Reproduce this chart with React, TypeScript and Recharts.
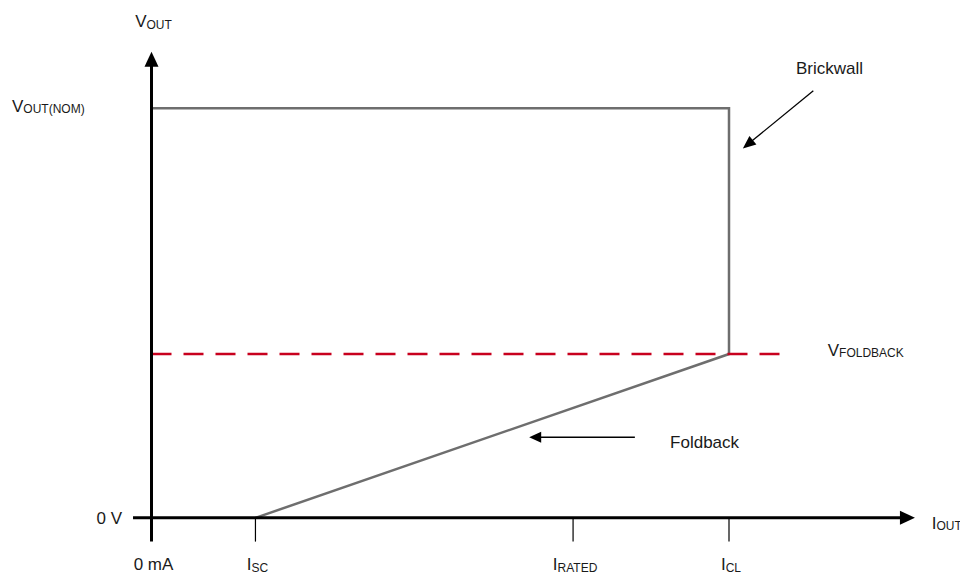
import React from 'react';
import { ComposedChart, Line, XAxis, YAxis, ReferenceLine, ReferenceDot } from 'recharts';

// current in % of I_CL, voltage in V (V_OUT(NOM) taken as 5)
const CURVE_I = [18, 100, 100, 0];
const CURVE_V = [0, 2, 5, 5];
const FOLDBACK_I = [0, 109];
const FOLDBACK_V = [2, 2];

const X_TICKS = [0, 18, 73, 100];
const X_TICK_LABELS: [string, string][] = [
  ['0 mA', ''],
  ['I', 'SC'],
  ['I', 'RATED'],
  ['I', 'CL'],
];
const Y_TICKS = [0, 5];
const Y_TICK_LABELS: [string, string][] = [
  ['0 V', ''],
  ['V', 'OUT(NOM)'],
];

const curveData = CURVE_I.map((i, k) => ({ i, v: CURVE_V[k] }));
const foldbackData = FOLDBACK_I.map((i, k) => ({ i, v: FOLDBACK_V[k] }));

const TEXT = '#1a1a1a';
const GRAY = '#6e6e6e';
const RED = '#c8001e';

type SubTextProps = { x: number; y: number; main: string; sub: string; anchor?: 'start' | 'middle' | 'end' };

const SubText = ({ x, y, main, sub, anchor = 'start' }: SubTextProps) => (
  <text x={x} y={y} textAnchor={anchor} fill={TEXT} fontSize={17}>
    <tspan>{main}</tspan>
    {sub && (
      <tspan fontSize={12} dy={1.5}>
        {sub}
      </tspan>
    )}
  </text>
);

const XTick = (props: any) => {
  const { x, y, payload } = props;
  const idx = X_TICKS.indexOf(payload.value);
  if (idx < 0) return null;
  const [main, sub] = X_TICK_LABELS[idx];
  return <SubText x={x + 2} y={y + 3} main={main} sub={sub} anchor="middle" />;
};

// the two y labels sit differently in the original
const Y_TICK_PLACE: Record<number, { dx: number; dy: number; anchor: 'start' | 'end' }> = {
  0: { dx: 86, dy: 6.4, anchor: 'end' },
  5: { dx: -24, dy: 3.4, anchor: 'start' },
};

const YTick = (props: any) => {
  const { x, y, payload } = props;
  const idx = Y_TICKS.indexOf(payload.value);
  if (idx < 0) return null;
  const [main, sub] = Y_TICK_LABELS[idx];
  const p = Y_TICK_PLACE[payload.value];
  return <SubText x={x + p.dx} y={y + p.dy} main={main} sub={sub} anchor={p.anchor} />;
};

const arrow = (head: number, half: number) => (props: any) => {
  const { x1, y1, x2, y2, stroke, strokeWidth } = props;
  const dx = x2 - x1;
  const dy = y2 - y1;
  const len = Math.hypot(dx, dy) || 1;
  const ux = dx / len;
  const uy = dy / len;
  const bx = x2 - ux * head;
  const by = y2 - uy * head;
  return (
    <g>
      <line x1={x1} y1={y1} x2={bx + ux} y2={by + uy} stroke={stroke} strokeWidth={strokeWidth} />
      <polygon
        points={`${x2},${y2} ${bx - uy * half},${by + ux * half} ${bx + uy * half},${by - ux * half}`}
        fill={stroke}
      />
    </g>
  );
};

const note = (main: string, sub: string, anchor: 'start' | 'middle' | 'end' = 'start') => (p: any) => (
  <SubText x={p.cx} y={p.cy} main={main} sub={sub} anchor={anchor} />
);

export default function App() {
  return (
    <div
      style={{
        position: 'absolute',
        left: 0,
        top: 0,
        width: 960,
        height: 573,
        background: '#fff',
        fontFamily: '"Liberation Sans", Arial, sans-serif',
      }}
    >
      <ComposedChart width={960} height={573} margin={{ top: 10, right: 0, bottom: 0, left: 0 }}>
        <XAxis
          type="number"
          dataKey="i"
          domain={[-20, 140]}
          ticks={X_TICKS}
          interval={0}
          allowDataOverflow
          axisLine={false}
          tickLine={false}
          tickSize={0}
          tickMargin={0}
          height={6}
          tick={(p: any) => <XTick {...p} />}
        />
        <YAxis
          type="number"
          domain={[-0.6, 6.2]}
          ticks={Y_TICKS}
          interval={0}
          allowDataOverflow
          axisLine={false}
          tickLine={false}
          tickSize={0}
          tickMargin={0}
          width={36}
          tick={(p: any) => <YTick {...p} />}
        />

        <Line
          data={curveData}
          dataKey="v"
          type="linear"
          stroke={GRAY}
          strokeWidth={2.5}
          dot={false}
          activeDot={false}
          isAnimationActive={false}
        />
        <Line
          data={foldbackData}
          dataKey="v"
          type="linear"
          stroke={RED}
          strokeWidth={2.5}
          strokeDasharray="20 12"
          dot={false}
          activeDot={false}
          isAnimationActive={false}
        />

        {/* axes drawn through the origin */}
        <ReferenceLine
          segment={[{ x: -3.2, y: 0 }, { x: 132.2, y: 0 }]}
          stroke="#000"
          strokeWidth={3}
          ifOverflow="visible"
          shape={arrow(15, 7)}
        />
        <ReferenceLine
          segment={[{ x: 0, y: -0.29 }, { x: 0, y: 5.69 }]}
          stroke="#000"
          strokeWidth={3}
          ifOverflow="visible"
          shape={arrow(15, 7)}
        />
        {X_TICKS.slice(1).map((t) => (
          <ReferenceLine
            key={t}
            segment={[{ x: t, y: 0 }, { x: t, y: -0.29 }]}
            stroke="#000"
            strokeWidth={1.2}
            ifOverflow="visible"
          />
        ))}

        {/* annotations */}
        <ReferenceLine
          segment={[{ x: 114.6, y: 5.215 }, { x: 102.4, y: 4.51 }]}
          stroke="#000"
          strokeWidth={1.3}
          ifOverflow="visible"
          shape={arrow(13, 5.5)}
        />
        <ReferenceLine
          segment={[{ x: 83.7, y: 0.984 }, { x: 65.4, y: 0.984 }]}
          stroke="#000"
          strokeWidth={1.3}
          ifOverflow="visible"
          shape={arrow(12, 5.5)}
        />
        <ReferenceDot x={0.35} y={5.99} r={0} ifOverflow="visible" shape={note('V', 'OUT', 'middle')} />
        <ReferenceDot x={135.1} y={-0.135} r={0} ifOverflow="visible" shape={note('I', 'OUT')} />
        <ReferenceDot x={117.1} y={1.98} r={0} ifOverflow="visible" shape={note('V', 'FOLDBACK')} />
        <ReferenceDot x={111.6} y={5.42} r={0} ifOverflow="visible" shape={note('Brickwall', '')} />
        <ReferenceDot x={89.8} y={0.85} r={0} ifOverflow="visible" shape={note('Foldback', '')} />
      </ComposedChart>
    </div>
  );
}
